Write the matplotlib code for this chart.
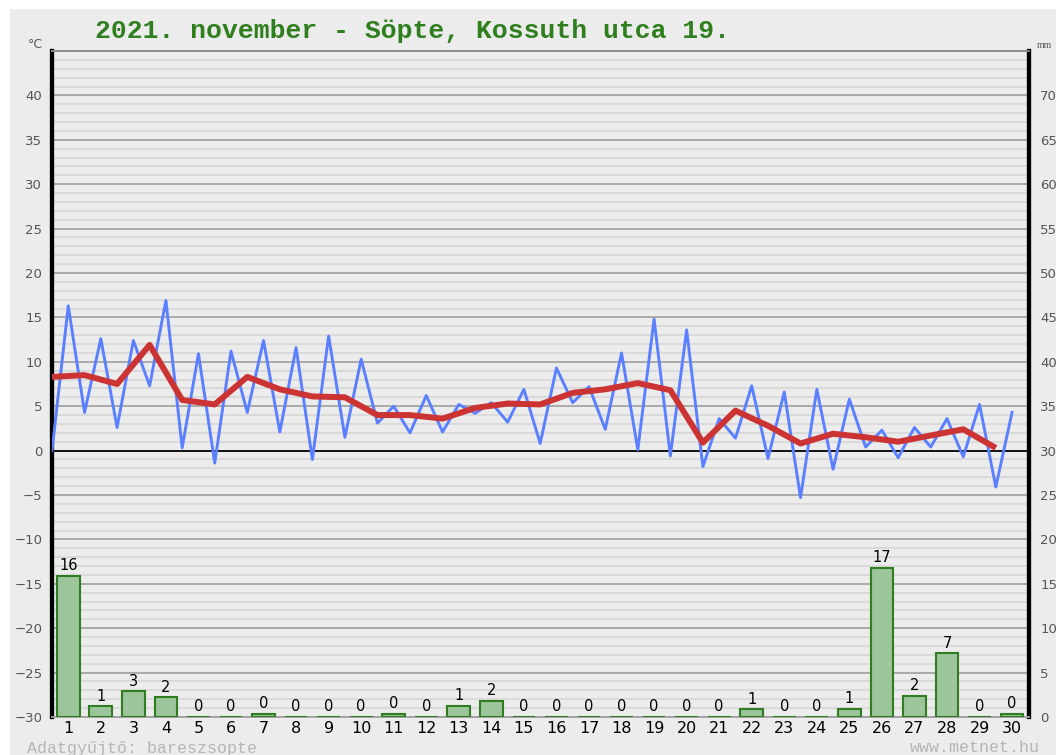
import numpy as np
import matplotlib.pyplot as plt
from matplotlib.patches import Rectangle
from matplotlib.ticker import MultipleLocator

TITLE = "2021. november - Söpte, Kossuth utca 19."
FOOTER_LEFT = "Adatgyűjtő: bareszsopte"
FOOTER_RIGHT = "www.metnet.hu"

days = np.arange(1, 31)

# blue line: two readings per day (x = 0.5, 1.0, ..., 30.0)
temp_x = np.arange(1, 61) * 0.5
temp_values = [
    0.0, 16.3, 4.3, 12.6, 2.6, 12.4, 7.3, 16.9, 0.3, 10.9,
    -1.4, 11.2, 4.3, 12.4, 2.1, 11.6, -1.0, 12.9, 1.5, 10.3,
    3.1, 5.0, 2.0, 6.2, 2.1, 5.2, 4.2, 5.4, 3.2, 6.9,
    0.8, 9.3, 5.4, 7.2, 2.4, 11.0, 0.1, 14.8, -0.6, 13.6,
    -1.8, 3.6, 1.4, 7.3, -0.9, 6.6, -5.3, 6.9, -2.1, 5.8,
    0.4, 2.3, -0.8, 2.6, 0.4, 3.6, -0.7, 5.2, -4.1, 4.3,
]

# red line: daily mean (x = 0.5, 1.5, ..., 29.5)
mean_x = days - 0.5
mean_values = [
    8.3, 8.5, 7.5, 11.9, 5.7, 5.2, 8.3, 6.9, 6.1, 6.0,
    4.0, 4.0, 3.6, 4.8, 5.3, 5.2, 6.5, 6.9, 7.6, 6.8,
    0.9, 4.5, 2.8, 0.8, 1.9, 1.5, 1.0, 1.7, 2.4, 0.3,
]

# daily precipitation, mm
precip = [
    15.9, 1.2, 2.9, 2.2, 0, 0, 0.35, 0, 0, 0,
    0.35, 0, 1.27, 1.8, 0, 0, 0, 0, 0, 0,
    0, 0.87, 0, 0, 0.9, 16.8, 2.4, 7.2, 0, 0.35,
]

BG = "#ececec"

fig = plt.figure(figsize=(10.56, 7.55), dpi=100, facecolor="white")
fig.patches.append(Rectangle((10 / 1056, 0), 1, 1 - 9 / 755, transform=fig.transFigure,
                             facecolor=BG, edgecolor="none", zorder=-10))

ax = fig.add_axes([52 / 1056, 38 / 755, 977 / 1056, 666 / 755])
ax.set_facecolor(BG)
ax.set_xlim(0.5, 30.52)
ax.set_ylim(-30, 45)

# grid
for v in range(-30, 46):
    if v == 0:
        continue
    if v % 5 == 0:
        ax.axhline(v, color="#a4a4a4", lw=1.3, zorder=1)
    else:
        ax.axhline(v, color="#dadada", lw=1.5, zorder=0.5)
ax.axhline(0, color="black", lw=1.3, zorder=2)

# precipitation on right axis (0..75 mm)
ax2 = ax.twinx()
ax2.set_ylim(0, 75)
ax2.bar(days, precip, width=0.7, color="#9cc59c", edgecolor="#2f7d1f", lw=1.5, zorder=3)
for d, v in zip(days, precip):
    ax2.annotate(f"{v:.0f}", (d, v), xytext=(0, 4), textcoords="offset points",
                 ha="center", va="baseline", fontsize=10.5, color="black")

ax2.plot(temp_x, np.array(temp_values) + 30, color="#5b80ff", lw=2.1, zorder=4)
ax2.plot(mean_x, np.array(mean_values) + 30, color="#cc3333", lw=4.3, zorder=5,
         solid_capstyle="butt", solid_joinstyle="round")

ax.set_yticks(range(-30, 41, 5))
ax2.set_yticks(range(0, 71, 5))
ax.set_xticks(days)
ax.set_xticklabels([str(d) for d in days])
ax.tick_params(axis="y", length=0, pad=7, labelsize=9.5, labelcolor="#555555")
ax.tick_params(axis="x", length=0, pad=3, labelsize=11.5, labelcolor="black")
ax2.tick_params(axis="y", length=0, pad=8, labelsize=9.5, labelcolor="#555555")

for a in (ax, ax2):
    a.spines["left"].set_linewidth(3)
    a.spines["left"].set_color("black")
    a.spines["right"].set_linewidth(3)
    a.spines["right"].set_color("black")
    a.spines["top"].set_color("#909090")
    a.spines["top"].set_linewidth(1.3)
    a.spines["bottom"].set_color("#a4a4a4")
    a.spines["bottom"].set_linewidth(1.3)

fig.text(95 / 1056, 1 - 31 / 755, TITLE, fontsize=19, fontweight="bold",
         family="Liberation Mono", color="#2f7f1f", ha="left", va="center")
fig.text(43 / 1056, 1 - 44 / 755, "°C", fontsize=9, color="#555555", ha="right", va="center")
fig.text(1037 / 1056, 1 - 46 / 755, "mm", fontsize=7, family="Liberation Serif",
         color="#555555", ha="left", va="center")
fig.text(27 / 1056, 1 - 748 / 755, FOOTER_LEFT, fontsize=12, family="Liberation Mono",
         color="#b5b5b5", ha="left", va="center")
fig.text(1040 / 1056, 1 - 748 / 755, FOOTER_RIGHT, fontsize=12, family="Liberation Mono",
         color="#b5b5b5", ha="right", va="center")

plt.savefig("out.png", dpi=100)
plt.close(fig)
